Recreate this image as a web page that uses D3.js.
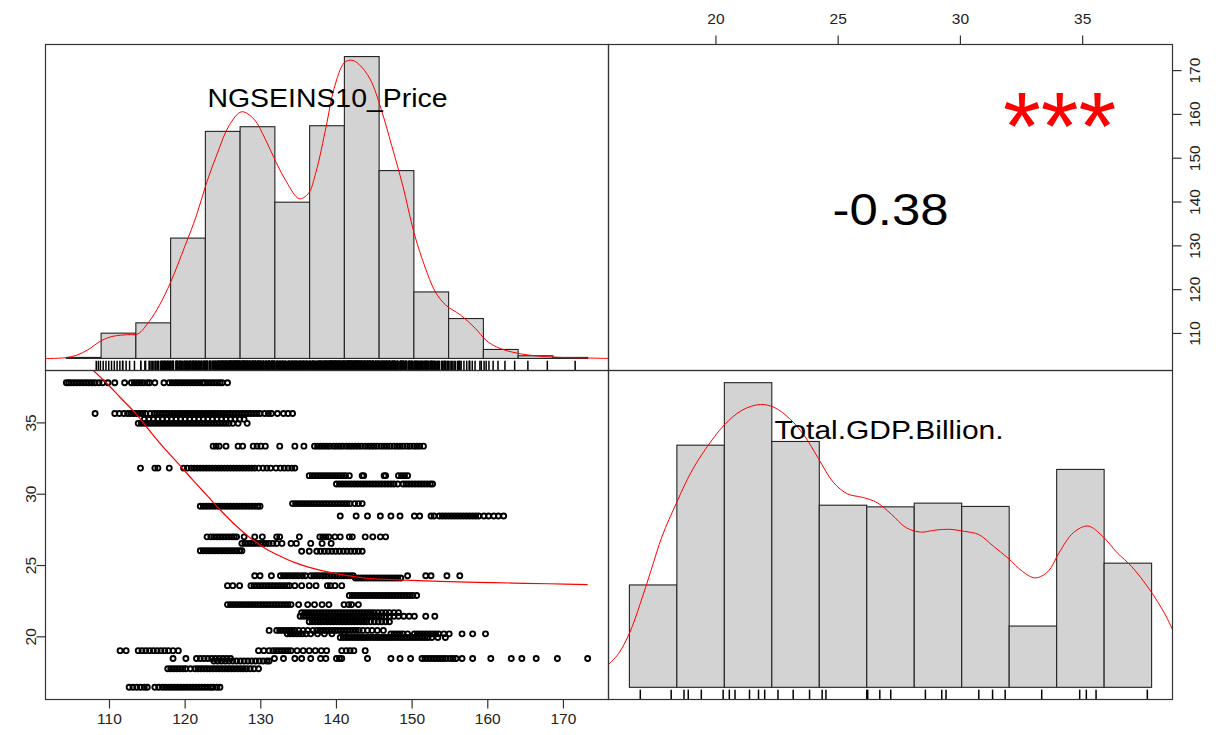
<!DOCTYPE html>
<html>
<head>
<meta charset="utf-8">
<script src="https://cdn.jsdelivr.net/npm/d3@7/dist/d3.min.js"></script>
<style>
  html, body { margin: 0; padding: 0; background: #ffffff; }
  svg { display: block; font-family: "Liberation Sans", Arial, sans-serif; }
</style>
</head>
<body>
<svg id="chart" width="1218" height="735"></svg>
<script>
// ---- data ---------------------------------------------------------------
const varNames = ["NGSEINS10_Price", "Total.GDP.Billion."];

// distinct GDP levels (one row of observations per level)
const gdpLevels = [37.82, 35.66, 35.25, 34.97, 33.37, 31.83, 31.30, 30.72, 29.34, 29.16,
  28.47, 27.01, 26.55, 26.04, 26.00, 24.28, 24.12, 23.59, 22.90, 22.26, 21.70, 21.44,
  21.06, 20.45, 20.21, 19.95, 19.03, 18.48, 18.30, 17.76, 16.46];

// prices observed at each GDP level (same order as gdpLevels)
const priceRows = [
  [104.3,104.6,104.9,105.3,105.7,106.1,106.5,106.9,107.3,107.7,108.1,108.6,109.1,109.8,110.7,112.0,112.9,113.3,113.7,114.1,114.5,115.0,115.3,116.0,117.2,117.9,118.3,118.7,119.1,119.5,119.9,120.3,120.7,121.1,121.5,121.9,122.3,122.6,123.0,123.4,123.8,124.2,124.6,124.9,125.6],
  [108.1,110.7,111.3,111.9,112.4,112.8,113.2,113.6,114.0,114.4,114.8,115.4,115.9,116.3,116.7,117.1,117.5,117.9,118.3,118.7,119.1,119.5,119.9,120.3,120.7,121.1,121.5,121.9,122.3,122.7,123.1,123.5,123.9,124.3,124.7,125.1,125.5,125.9,126.3,126.7,127.1,127.5,127.9,128.3,128.7,129.1,129.5,129.9,130.5,131.0,131.4,132.2,133.0,133.6,134.2],
  [114.6,115.2,115.8,116.4,117.0,117.6,118.2,118.8,119.4,120.0,120.6,121.2,121.8,122.4,123.0,123.6,124.2,124.8,125.4,126.0,126.6,127.2,127.8],
  [113.8,114.2,114.6,115.0,115.4,115.8,116.2,116.6,117.0,117.4,117.8,118.2,118.6,119.0,119.4,119.8,120.2,120.6,121.0,121.4,121.8,122.2,122.6,123.0,123.4,123.8,124.2,124.6,125.0,125.4,125.8,126.3,127.0,128.2],
  [123.7,124.1,124.5,125.4,127.0,127.6,129.0,129.5,130.0,130.6,132.5,134.5,135.7,137.1,137.5,137.9,138.3,138.7,139.1,139.6,140.0,140.4,140.8,141.3,141.7,142.1,142.5,142.9,143.3,143.8,144.2,144.6,145.0,145.4,145.9,146.3,146.7,147.1,147.6,148.0,148.4,148.8,149.3,149.7,150.2,150.6,151.0,151.5],
  [114.1,116.0,116.4,117.9,119.8,120.3,120.8,121.2,121.6,122.0,122.4,122.8,123.2,123.6,124.0,124.4,124.8,125.2,125.6,126.0,126.4,126.8,127.2,127.6,128.0,128.4,128.8,129.2,129.7,130.3,130.8,131.3,132.0,132.6,133.1,133.6,134.1,134.5],
  [136.4,136.8,137.2,137.6,138.0,138.4,138.8,139.2,139.6,140.0,140.4,140.8,141.2,141.7,143.4,143.6,146.3,146.5,148.2,148.6,149.0,149.4],
  [140.0,140.4,140.8,141.2,141.6,142.0,142.4,142.8,143.2,143.6,144.0,144.4,144.8,145.2,145.6,146.0,146.4,146.8,147.2,147.6,148.1,148.8,149.2,149.6,150.0,150.4,150.8,151.2,151.6,152.0,152.4,152.7],
  [134.2,134.6,135.0,135.4,135.8,136.2,136.6,137.0,137.4,137.8,138.2,138.6,139.0,139.4,139.8,140.2,140.6,141.0,141.4,141.8,142.4,142.9,143.4],
  [122.0,122.4,122.8,123.2,123.6,124.0,124.4,124.8,125.2,125.6,126.0,126.4,126.8,127.2,127.6,128.0,128.4,128.8,129.2,129.6,129.9],
  [140.5,142.6,144.1,145.8,147.2,148.4,150.3,151.0,152.5,152.9,153.6,154.0,154.4,154.8,155.2,155.6,156.0,156.4,156.8,157.2,157.6,158.0,158.4,158.8,159.5,160.1,160.8,161.4,162.1],
  [122.9,123.4,123.8,124.2,124.6,125.0,125.4,125.8,126.2,126.5,126.8,127.8,129.2,130.2,132.1,132.5,135.1,137.8,138.2,138.6,139.0,139.8,140.5,141.7,142.1,143.8,144.8,145.8,146.5],
  [127.5,127.9,128.3,128.7,129.1,129.5,129.9,130.3,130.7,131.1,131.6,132.1,132.8,134.0,134.7,136.6,138.1,139.3],
  [122.0,122.4,122.8,123.2,123.6,124.0,124.4,124.8,125.2,125.6,126.0,126.4,126.8,127.2,127.5],
  [135.4,136.4,137.4,137.9,138.4,138.9,139.4,139.9,140.4,140.9,141.4,141.9,142.4,142.9,143.4],
  [129.2,129.9,131.4,132.6,133.0,133.4,133.8,134.2,134.6,135.0,135.5,135.9,136.6,137.0,137.4,137.8,138.2,138.6,139.0,139.4,139.8,140.2,140.6,141.0,141.4,141.8,142.2,149.4,151.8,152.5,154.6,156.3],
  [142.5,142.9,143.3,143.7,144.1,144.5,144.9,145.3,145.7,146.1,146.5,146.9,147.3,147.7,148.1,148.5],
  [125.6,126.3,127.2,128.7,129.1,129.5,129.9,130.3,130.7,131.1,131.5,131.9,132.3,132.7,133.1,133.5,133.8,134.5,135.4,136.4,137.3,138.8,139.2,139.8,140.7],
  [141.7,142.1,142.5,142.9,143.3,143.7,144.1,144.5,144.9,145.3,145.7,146.1,146.5,146.9,147.3,147.7,148.1,148.5,148.9,149.3,149.7,150.1,150.6],
  [125.6,126.0,126.4,126.8,127.2,127.6,128.0,128.4,128.8,129.2,129.6,130.0,130.4,130.8,131.2,131.6,132.0,132.4,132.8,133.2,133.6,134.0,135.0,136.2,137.1,138.1,139.0,141.0,141.6,142.0,142.9],
  [135.4,135.8,136.2,136.6,137.0,137.4,137.8,138.2,138.6,139.0,139.4,139.8,140.2,140.6,141.0,141.4,141.8,142.2,142.6,143.0,143.4,143.8,144.2,144.6,145.0,145.5,146.0,146.5,147.0,147.6,148.2],
  [135.2,135.6,136.0,136.4,136.8,137.2,137.6,138.0,138.4,138.8,139.2,139.6,140.0,140.4,140.8,141.2,141.6,142.0,142.4,142.8,143.2,143.6,144.0,144.4,144.8,145.2,145.6,146.0,146.5,147.0,147.6,148.2,148.9,149.6,150.3,151.8,153.0],
  [136.4,136.8,137.2,137.6,138.0,138.4,138.8,139.2,139.6,140.0,140.4,140.8,141.2,141.6,142.0,142.4,142.8,143.2,143.6,144.0,144.5,145.0,145.5,146.0,146.5,147.0],
  [131.1,132.1,132.5,132.9,133.3,133.7,134.1,134.5,135.0,135.6,136.2,136.9,137.4,137.8,138.2,138.6,139.0,139.4,139.8,140.2,140.6,141.0,141.4,141.8,142.2,142.6,143.0,143.5,144.1,144.7,145.4,146.2],
  [133.5,133.9,134.3,134.7,135.1,135.5,136.0,136.6,137.5,138.4,139.4,141.0,147.2,147.6,148.0,148.4,148.8,149.4,150.3,150.7,151.1,151.5,151.9,152.3,152.7,153.1,153.5,154.2,154.9,156.6,158.0,159.7],
  [140.5,140.9,141.3,141.7,142.1,142.5,142.9,143.3,143.7,144.1,144.5,144.9,145.3,145.7,146.1,146.5,146.9,147.3,147.7,148.1,148.5,148.9,149.3,149.7,150.1,150.5,150.9,151.3,151.7,152.1,152.6,153.4,154.4],
  [111.4,112.2,113.8,114.3,114.8,115.3,115.8,116.3,116.8,117.3,117.8,118.4,119.1,129.7,130.4,131.1,131.6,132.0,132.4,132.8,133.2,133.6,134.0,134.8,135.6,136.4,137.2,138.0,138.7,140.7,141.3,141.8,142.3,143.8],
  [118.4,120.1,121.5,122.0,122.5,123.0,123.5,124.0,124.5,125.0,125.5,126.0,131.8,133.0,134.5,135.4,136.6,137.9,138.6,140.0,140.4,140.7,144.1,147.2,148.4,149.8,151.3,151.7,152.1,152.5,152.9,153.3,153.7,154.1,154.5,155.0,155.4,155.8,156.6,158.0,160.4,163.1,164.5,166.4,169.2,173.2],
  [123.8,124.3,124.8,125.3,125.8,126.3,126.8,127.3,127.8,128.3,128.8,129.3,129.8,130.3,130.8,131.1],
  [117.7,118.1,118.5,118.9,119.3,119.7,120.1,120.7,121.3,121.7,122.1,122.5,122.9,123.3,123.7,124.1,124.5,124.9,125.3,125.7,126.1,126.5,126.9,127.3,127.7,128.1,128.6,129.1,129.7],
  [112.6,113.1,113.6,114.1,114.6,115.0,116.0,116.5,117.0,117.4,117.8,118.2,118.6,119.0,119.4,119.8,120.2,120.6,121.0,121.4,121.8,122.2,122.6,123.0,123.4,123.7,124.2,124.6]
];

// histogram of price
const priceBreaks = [100, 105, 110, 115, 120, 125, 130, 135, 140, 145, 150, 155, 160, 165, 170, 175];
const priceCounts = [3, 76, 107, 362, 683, 697, 470, 700, 908, 565, 200, 120, 27, 8, 3];

// histogram of GDP
const gdpBreaks = [16, 18, 20, 22, 24, 26, 28, 30, 32, 34, 36, 38];
const gdpCounts = [249, 589, 741, 598, 443, 439, 448, 440, 149, 530, 302];

// kernel density estimates
const priceDensX = [97.0, 97.8, 100.0, 101.5, 103.0, 105.1, 106.7, 108.8, 110.3, 111.9, 113.4, 115.0, 117.1, 118.7, 120.2, 121.8, 123.4, 125.2, 127.0, 128.6, 130.2, 131.7, 133.5, 134.8, 135.9, 137.4, 138.5, 140.0, 141.1, 142.1, 143.7, 145.3, 146.8, 148.4, 150.0, 151.5, 153.1, 154.6, 156.7, 158.8, 160.4, 161.9, 164.0, 166.6, 169.3, 171.8, 175.0, 178.0];
const priceDensY = [0, 0, 0.0001, 0.0004, 0.0010, 0.0022, 0.0027, 0.0029, 0.0030, 0.0045, 0.0065, 0.0093, 0.0138, 0.0174, 0.0215, 0.0252, 0.0284, 0.0301, 0.0292, 0.0268, 0.0239, 0.0215, 0.0195, 0.0201, 0.0227, 0.0284, 0.0329, 0.0361, 0.0364, 0.0359, 0.0341, 0.0304, 0.0260, 0.0211, 0.0154, 0.0114, 0.0081, 0.0065, 0.0053, 0.0037, 0.0022, 0.0014, 0.0008, 0.0004, 0.0002, 0.0001, 0.00005, 0];

const gdpDensX = [15.08, 15.54, 16.0, 16.46, 16.92, 17.38, 17.99, 18.60, 19.22, 19.99, 20.75, 21.52, 22.13, 22.75, 23.36, 23.97, 24.59, 25.20, 25.81, 26.43, 27.04, 27.66, 28.27, 28.88, 29.49, 30.11, 30.72, 31.34, 31.95, 32.56, 33.10, 33.64, 34.10, 34.71, 35.32, 35.93, 36.55, 37.16, 37.93, 38.54, 38.96];
const gdpDensY = [0.0054, 0.0083, 0.0133, 0.0207, 0.0290, 0.0373, 0.0456, 0.0531, 0.0589, 0.0647, 0.0684, 0.0698, 0.0690, 0.0663, 0.0622, 0.0564, 0.0506, 0.0477, 0.0469, 0.0456, 0.0427, 0.0394, 0.0383, 0.0388, 0.0390, 0.0385, 0.0377, 0.0348, 0.0319, 0.0286, 0.0270, 0.0286, 0.0332, 0.0382, 0.0398, 0.0373, 0.0332, 0.0298, 0.0240, 0.0183, 0.0133];

// smoothed fit of GDP on price
const smoothPrice = [107.6, 109.5, 111.4, 113.4, 115.3, 117.2, 119.1, 121.0, 123.0, 124.9, 126.8, 128.7, 130.6, 132.6, 134.5, 136.9, 139.3, 141.7, 144.1, 148.9, 153.7, 158.5, 163.3, 168.1, 173.2];
const smoothGdp = [38.8, 37.85, 36.8, 35.7, 34.45, 33.25, 32.15, 31.0, 29.85, 28.75, 27.75, 26.9, 26.2, 25.65, 25.2, 24.8, 24.5, 24.27, 24.1, 23.98, 23.89, 23.82, 23.77, 23.72, 23.66];

const priceTicks = [110, 120, 130, 140, 150, 160, 170];
const gdpTicks = [20, 25, 30, 35];

const corrText = "-0.38";
const corrStars = "***";

// ---- layout -------------------------------------------------------------
const colX = [45.5, 608.5, 1172.5];
const rowY = [44.5, 370.5, 699.5];
const tickLen = 9;
const labelFont = 15.5;

const svg = d3.select("#chart");

// range padded by 4% on each side
function padded(ext) {
  const d = (ext[1] - ext[0]) * 0.04;
  return [ext[0] - d, ext[1] + d];
}

const allPrices = priceRows.flat();
const allGdp = priceRows.flatMap((row, i) => row.map(() => gdpLevels[i]));

const priceDom = padded(d3.extent(allPrices));
const gdpDom = padded(d3.extent(gdpLevels));

const priceX = d3.scaleLinear().domain(priceDom).range([colX[0], colX[1]]);
const gdpX = d3.scaleLinear().domain(gdpDom).range([colX[1], colX[2]]);
const priceY = d3.scaleLinear().domain(priceDom).range([rowY[1], rowY[0]]);
const gdpY = d3.scaleLinear().domain(gdpDom).range([rowY[2], rowY[1]]);

// clip paths for each panel
const defs = svg.append("defs");
function clip(id, x0, x1, y0, y1) {
  defs.append("clipPath").attr("id", id)
    .append("rect").attr("x", x0).attr("y", y0).attr("width", x1 - x0).attr("height", y1 - y0);
  return `url(#${id})`;
}
const clipTL = clip("cTL", colX[0], colX[1], rowY[0], rowY[1]);
const clipBL = clip("cBL", colX[0], colX[1], rowY[1], rowY[2]);
const clipBR = clip("cBR", colX[1], colX[2], rowY[1], rowY[2]);

// ---- diagonal histogram panel --------------------------------------------
function histPanel(breaks, counts, densX, densY, values, x0, x1, y0, y1, clipUrl) {
  const n = d3.sum(counts);
  const w = breaks[1] - breaks[0];
  const dens = counts.map(c => c / (n * w));
  const dmax = d3.max(dens);
  const hx = d3.scaleLinear().domain(padded([breaks[0], breaks[breaks.length - 1]])).range([x0, x1]);
  const hy = d3.scaleLinear().domain([-0.04 * dmax, 1.04 * dmax]).range([y1, y0]);
  const g = svg.append("g");

  g.selectAll("rect.bar").data(dens).join("rect")
    .attr("class", "bar")
    .attr("x", (d, i) => hx(breaks[i]))
    .attr("width", (d, i) => hx(breaks[i + 1]) - hx(breaks[i]))
    .attr("y", d => hy(d))
    .attr("height", d => hy(0) - hy(d))
    .attr("fill", "#d3d3d3")
    .attr("stroke", "#222")
    .attr("stroke-width", 1.1);

  const pts = densX.map((x, i) => [x, densY[i]]);
  g.append("path")
    .attr("clip-path", clipUrl)
    .attr("d", d3.line().x(d => hx(d[0])).y(d => hy(d[1])).curve(d3.curveCatmullRom.alpha(0.5))(pts))
    .attr("fill", "none")
    .attr("stroke", "#ff0000")
    .attr("stroke-width", 1);

  const rugH = 0.03 * (y1 - y0);
  g.selectAll("line.rug").data(values).join("line")
    .attr("class", "rug")
    .attr("x1", d => hx(d)).attr("x2", d => hx(d))
    .attr("y1", y1).attr("y2", y1 - rugH)
    .attr("stroke", "#000")
    .attr("stroke-width", 1.5);
}

histPanel(priceBreaks, priceCounts, priceDensX, priceDensY, allPrices,
  colX[0], colX[1], rowY[0], rowY[1], clipTL);
histPanel(gdpBreaks, gdpCounts, gdpDensX, gdpDensY, gdpLevels,
  colX[1], colX[2], rowY[1], rowY[2], clipBR);

// diagonal labels
svg.append("text")
  .attr("x", 327.5).attr("y", 107)
  .attr("text-anchor", "middle")
  .attr("font-size", 25.5)
  .attr("textLength", 240)
  .attr("lengthAdjust", "spacingAndGlyphs")
  .attr("fill", "#000")
  .text(varNames[0]);
svg.append("text")
  .attr("x", 889).attr("y", 438.5)
  .attr("text-anchor", "middle")
  .attr("font-size", 25.5)
  .attr("textLength", 229)
  .attr("lengthAdjust", "spacingAndGlyphs")
  .attr("fill", "#000")
  .text(varNames[1]);

// ---- lower panel: scatter with smooth ------------------------------------
const scatter = svg.append("g");
scatter.selectAll("circle").data(allPrices.map((p, i) => [p, allGdp[i]])).join("circle")
  .attr("cx", d => priceX(d[0]))
  .attr("cy", d => gdpY(d[1]))
  .attr("r", 2.5)
  .attr("fill", "none")
  .attr("stroke", "#000")
  .attr("stroke-width", 1.9);

svg.append("path")
  .attr("clip-path", clipBL)
  .attr("d", d3.line().x(d => priceX(d[0])).y(d => gdpY(d[1])).curve(d3.curveCatmullRom.alpha(0.5))(
    smoothPrice.map((p, i) => [p, smoothGdp[i]])))
  .attr("fill", "none")
  .attr("stroke", "#ff0000")
  .attr("stroke-width", 1.2);

// ---- upper panel: correlation --------------------------------------------
const cx = (colX[1] + colX[2]) / 2;
svg.append("text")
  .attr("x", cx).attr("y", 225)
  .attr("text-anchor", "middle")
  .attr("font-size", 45)
  .attr("textLength", 116)
  .attr("lengthAdjust", "spacingAndGlyphs")
  .attr("fill", "#000")
  .text(corrText);
svg.append("text")
  .attr("x", colX[1] + 0.8 * (colX[2] - colX[1])).attr("y", 160)
  .attr("text-anchor", "middle")
  .attr("font-size", 97)
  .attr("fill", "#ff0000")
  .text(corrStars);

// ---- panel frames ---------------------------------------------------------
const frames = [
  [colX[0], colX[1], rowY[0], rowY[1]], [colX[1], colX[2], rowY[0], rowY[1]],
  [colX[0], colX[1], rowY[1], rowY[2]], [colX[1], colX[2], rowY[1], rowY[2]]
];
svg.selectAll("rect.frame").data(frames).join("rect")
  .attr("class", "frame")
  .attr("x", d => d[0]).attr("y", d => d[2])
  .attr("width", d => d[1] - d[0]).attr("height", d => d[3] - d[2])
  .attr("fill", "none")
  .attr("stroke", "#333")
  .attr("stroke-width", 1.2);

// ---- axes -----------------------------------------------------------------
const axisColor = "#333";
// bottom: price
svg.selectAll("line.tb").data(priceTicks).join("line")
  .attr("x1", d => priceX(d)).attr("x2", d => priceX(d))
  .attr("y1", rowY[2]).attr("y2", rowY[2] + tickLen)
  .attr("stroke", axisColor).attr("stroke-width", 1.2);
svg.selectAll("text.tb").data(priceTicks).join("text")
  .attr("x", d => priceX(d)).attr("y", 724)
  .attr("text-anchor", "middle").attr("font-size", labelFont).attr("fill", "#222")
  .text(d => d);
// left: GDP
svg.selectAll("line.tl").data(gdpTicks).join("line")
  .attr("x1", colX[0] - tickLen).attr("x2", colX[0])
  .attr("y1", d => gdpY(d)).attr("y2", d => gdpY(d))
  .attr("stroke", axisColor).attr("stroke-width", 1.2);
svg.selectAll("text.tl").data(gdpTicks).join("text")
  .attr("transform", d => `translate(30,${gdpY(d)}) rotate(-90)`)
  .attr("text-anchor", "middle").attr("dy", "0.36em")
  .attr("font-size", labelFont).attr("fill", "#222")
  .text(d => d);
// top: GDP
svg.selectAll("line.tt").data(gdpTicks).join("line")
  .attr("x1", d => gdpX(d)).attr("x2", d => gdpX(d))
  .attr("y1", rowY[0] - tickLen).attr("y2", rowY[0])
  .attr("stroke", axisColor).attr("stroke-width", 1.2);
svg.selectAll("text.tt").data(gdpTicks).join("text")
  .attr("x", d => gdpX(d)).attr("y", 24)
  .attr("text-anchor", "middle").attr("font-size", labelFont).attr("fill", "#222")
  .text(d => d);
// right: price
svg.selectAll("line.tr").data(priceTicks).join("line")
  .attr("x1", colX[2]).attr("x2", colX[2] + tickLen)
  .attr("y1", d => priceY(d)).attr("y2", d => priceY(d))
  .attr("stroke", axisColor).attr("stroke-width", 1.2);
svg.selectAll("text.tr").data(priceTicks).join("text")
  .attr("transform", d => `translate(1194,${priceY(d)}) rotate(-90)`)
  .attr("text-anchor", "middle").attr("dy", "0.36em")
  .attr("font-size", labelFont).attr("fill", "#222")
  .text(d => d);
</script>
</body>
</html>
